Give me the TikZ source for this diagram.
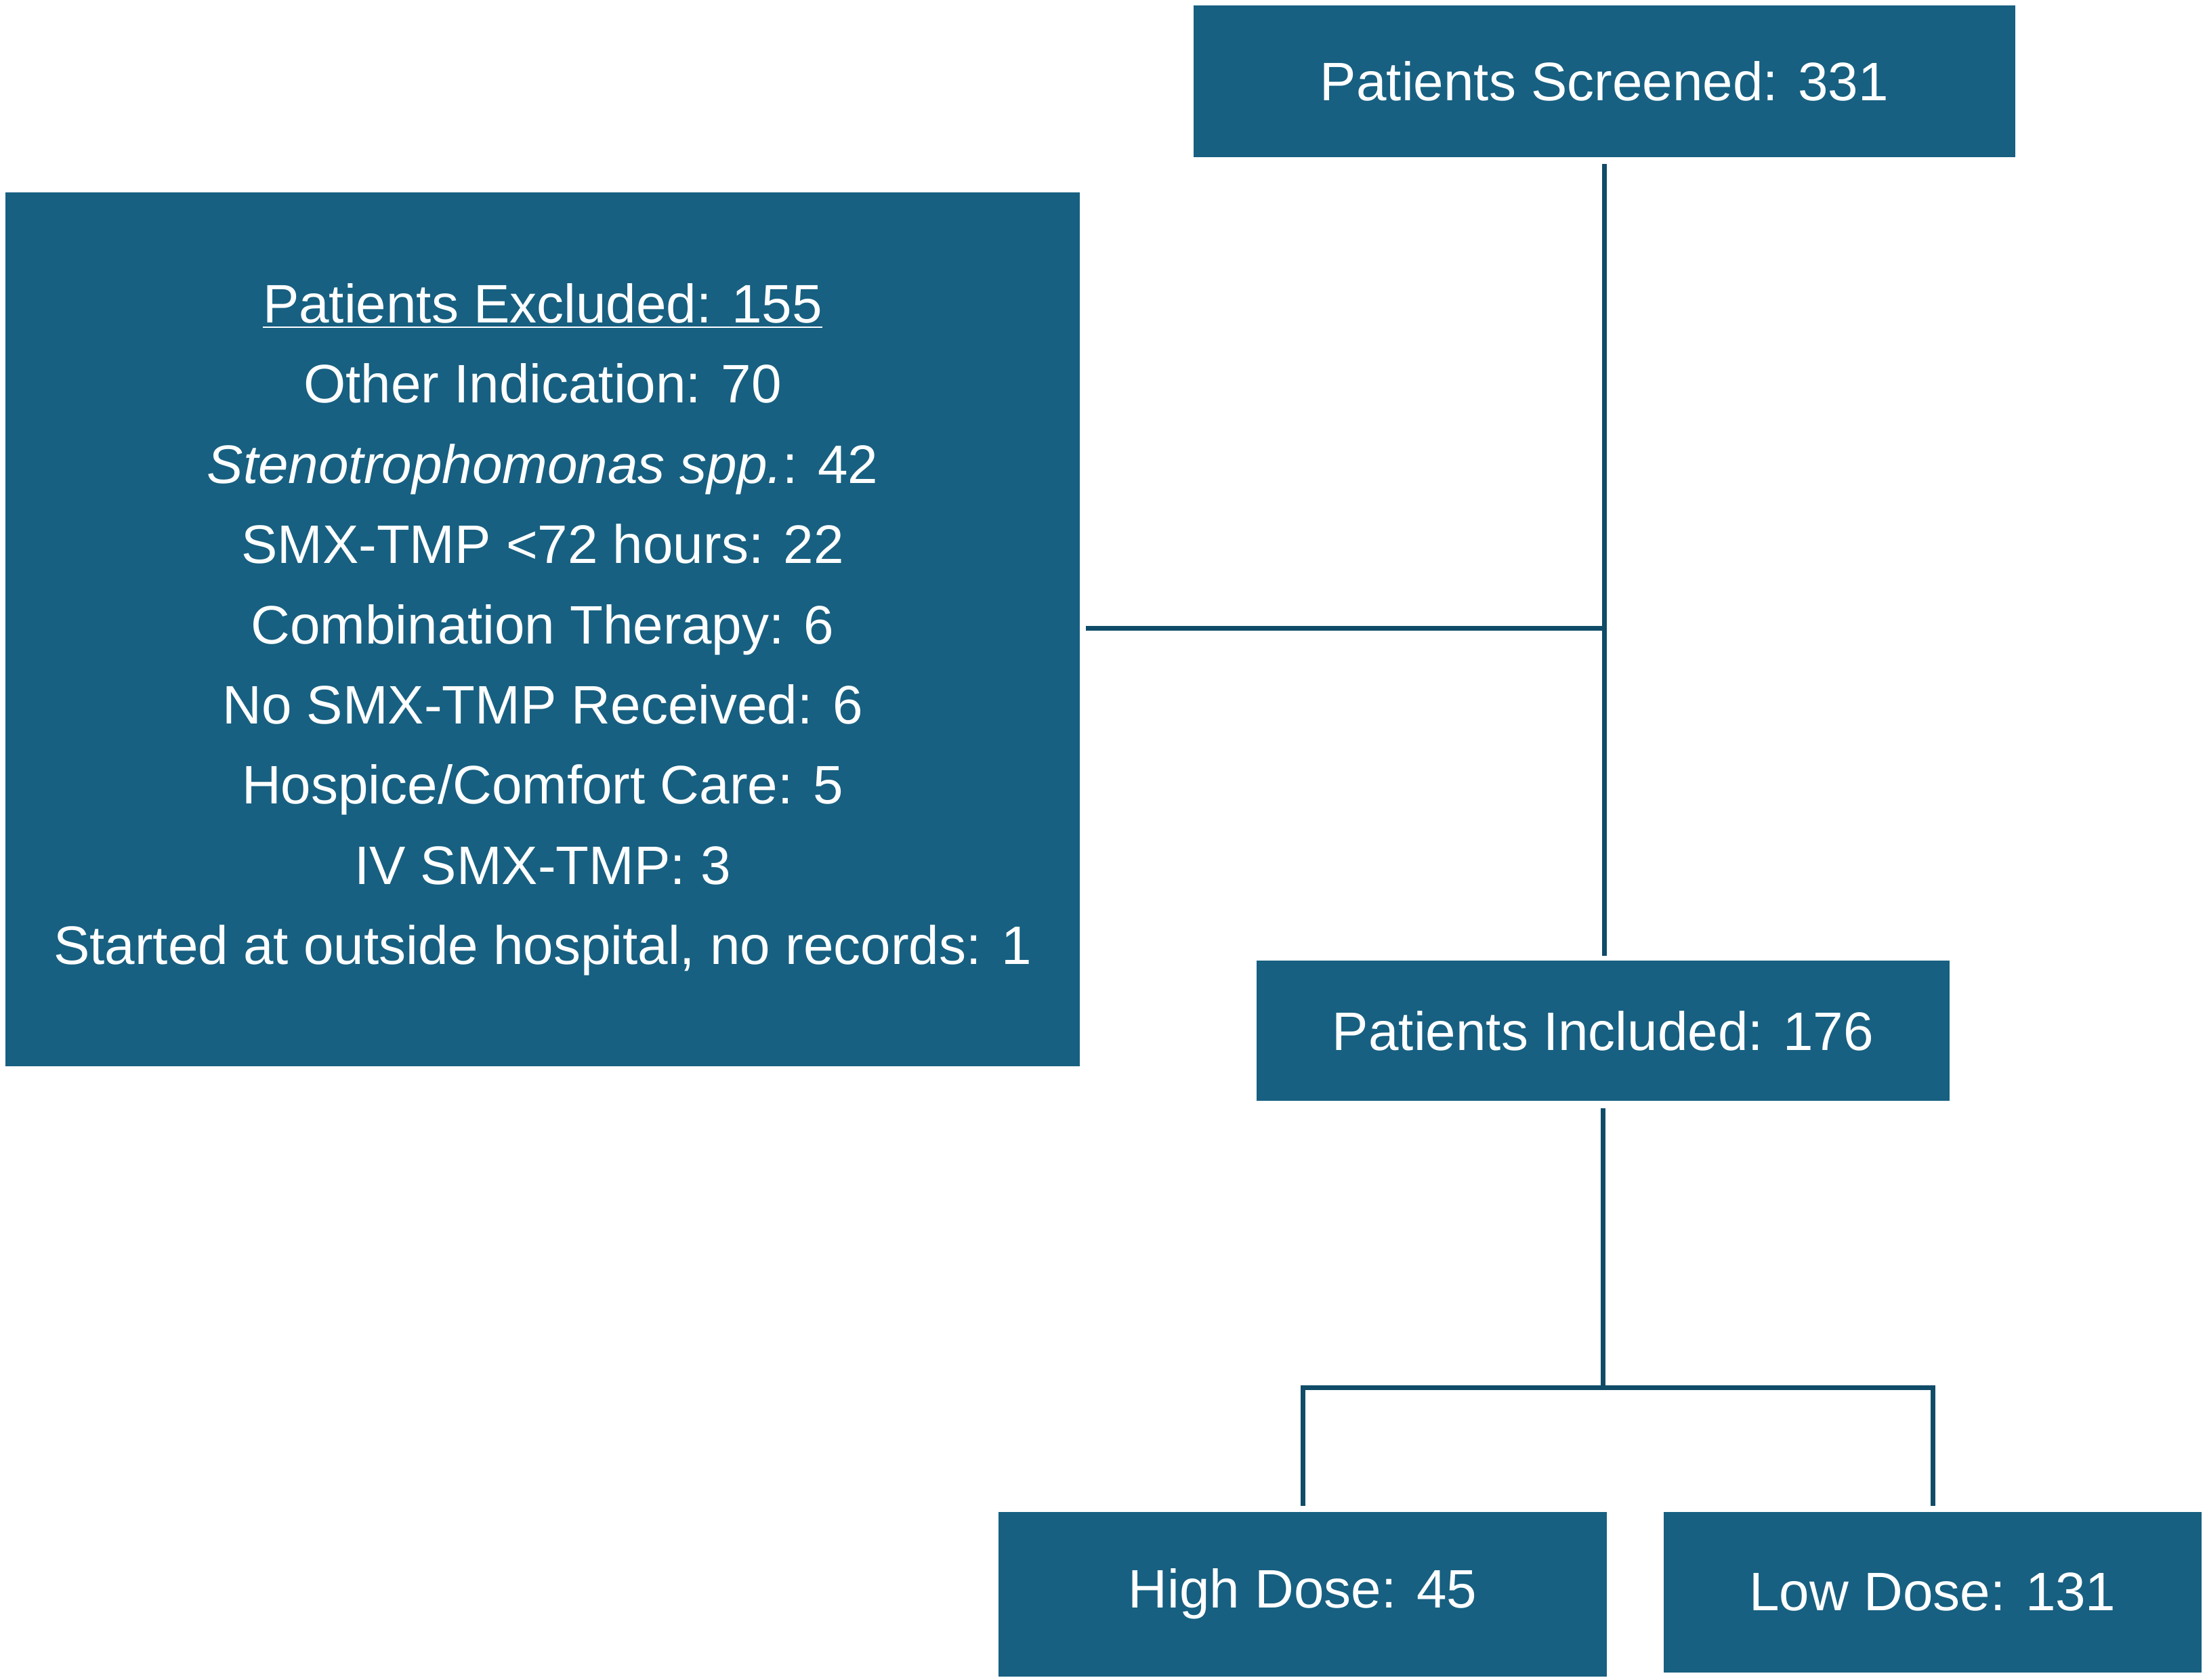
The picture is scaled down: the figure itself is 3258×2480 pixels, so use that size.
\documentclass[tikz,border=0pt]{standalone}
\usepackage{fontspec}
\setmainfont{Liberation Sans}
\definecolor{boxblue}{RGB}{23,96,129}
\definecolor{lineblue}{RGB}{16,76,104}
\begin{document}
\begin{tikzpicture}[x=0.25pt,y=-0.25pt,
  box/.style={fill=boxblue, text=white, inner sep=0pt, align=center,
    font=\fontsize{20}{29.6}\selectfont},
  conn/.style={draw=lineblue, line width=1.75pt}]
\useasboundingbox (0,0) rectangle (3258,2480);
\node[box, minimum width=303.25pt, minimum height=56pt] (scr) at (2368.5,120) {Patients Screened: 331};
\node[box, minimum width=396.5pt, minimum height=322.5pt] (excl) at (801,929.5)
  {\underline{Patients Excluded: 155}\\
   Other Indication: 70\\
   \textit{Stenotrophomonas spp.}: 42\\
   SMX-TMP <72 hours: 22\\
   Combination Therapy: 6\\
   No SMX-TMP Received: 6\\
   Hospice/Comfort Care: 5\\
   IV SMX-TMP: 3\\
   Started at outside hospital, no records: 1};
\node[box, minimum width=255.75pt, minimum height=51.75pt] (inc) at (2366.5,1522) {Patients Included: 176};
\node[box, minimum width=224.5pt, minimum height=60.75pt] (hi) at (1923,2353) {High Dose: 45};
\node[box, minimum width=198.5pt, minimum height=59.25pt] (lo) at (2853,2350) {Low Dose: 131};
\coordinate (j) at (2367.5,928);
\coordinate (b) at (2366.5,2048);
\draw[conn] ([yshift=-2.25pt]scr.south) -- ([yshift=1.75pt]scr.south |- inc.north);
\draw[conn] (j) -- ([xshift=2pt]excl.east |- j);
\draw[conn] ([yshift=-2.5pt]inc.south) -- (b);
\draw[conn, line join=miter] ([yshift=2pt]hi.north) -- (hi.north |- b) -- (lo.north |- b) -- ([yshift=2pt]lo.north);
\end{tikzpicture}
\end{document}
